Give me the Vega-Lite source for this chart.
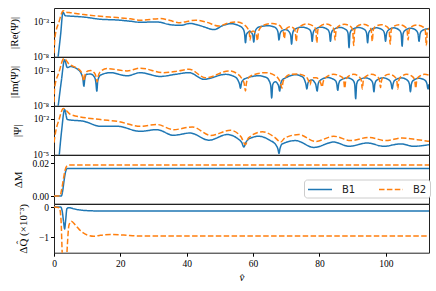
{
"$schema": "https://vega.github.io/schema/vega-lite/v6.json",
"padding": {"left": 7, "top": 7, "right": 8, "bottom": 5},
"spacing": 0,
"bounds": "flush",
"config": {
 "font": "Liberation Serif",
 "view": {"stroke": "#222", "strokeWidth": 1},
 "axis": {"labelFont": "Liberation Serif", "titleFont": "Liberation Serif", "labelFontSize": 9.5, "titleFontSize": 11, "titleFontWeight": "normal", "tickColor": "#000", "domain": false, "grid": false, "tickSize": 3.5, "labelColor": "#000", "titleColor": "#000", "labelPadding": 2},
 "line": {"strokeWidth": 1.5}
},
"resolve": {"legend": {"color": "independent", "strokeDash": "independent"}},
"data": {"values": [
{"p":1,"s":"B1","v":1.2,"y":6.3e-9},{"p":1,"s":"B1","v":2.0,"y":1.6e-5},{"p":1,"s":"B1","v":2.7,"y":2.5e-2},{"p":1,"s":"B1","v":3.4,"y":7.9e-3},{"p":1,"s":"B1","v":6,"y":6.3e-3},{"p":1,"s":"B1","v":9,"y":5.0e-3},{"p":1,"s":"B1","v":14,"y":2.4e-3},{"p":1,"s":"B1","v":19,"y":1.9e-3},{"p":1,"s":"B1","v":23,"y":1.26e-3},{"p":1,"s":"B1","v":26,"y":8.9e-4},{"p":1,"s":"B1","v":31,"y":1.0e-3},{"p":1,"s":"B1","v":35,"y":4.0e-4},{"p":1,"s":"B1","v":38,"y":3.2e-4},{"p":1,"s":"B1","v":41,"y":6.0e-4},{"p":1,"s":"B1","v":44.5,"y":2.5e-4},{"p":1,"s":"B1","v":48.2,"y":7.9e-5},{"p":1,"s":"B1","v":51,"y":3.2e-4},{"p":1,"s":"B1","v":53.2,"y":5.6e-4},{"p":1,"s":"B1","v":55.5,"y":3.2e-4},{"p":1,"s":"B1","v":56.9,"y":1.12e-4},{"p":1,"s":"B1","v":57.4,"y":2.5e-5},{"p":1,"s":"B1","v":57.7,"y":1e-6},{"p":1,"s":"B1","v":58.0,"y":1.6e-5},{"p":1,"s":"B1","v":58.5,"y":3.2e-5},{"p":1,"s":"B1","v":59.0,"y":5.0e-5},{"p":1,"s":"B1","v":59.4,"y":3.2e-5},{"p":1,"s":"B1","v":59.9,"y":1.26e-5},{"p":1,"s":"B1","v":60.2,"y":1.26e-6},{"p":1,"s":"B1","v":60.5,"y":2.5e-5},{"p":1,"s":"B1","v":61.0,"y":1e-4},{"p":1,"s":"B1","v":62.0,"y":2.0e-4},{"p":1,"s":"B1","v":64.5,"y":2.8e-4},{"p":1,"s":"B1","v":66.5,"y":1.78e-4},{"p":1,"s":"B1","v":67.0,"y":1.12e-4},{"p":1,"s":"B1","v":67.5,"y":3.2e-5},{"p":1,"s":"B1","v":67.8,"y":2.5e-6},{"p":1,"s":"B1","v":68.1,"y":2.0e-5},{"p":1,"s":"B1","v":68.6,"y":5.0e-5},{"p":1,"s":"B1","v":69.8,"y":7.9e-5},{"p":1,"s":"B1","v":70.8,"y":4.0e-5},{"p":1,"s":"B1","v":71.3,"y":1.26e-5},{"p":1,"s":"B1","v":71.6,"y":6.3e-7},{"p":1,"s":"B1","v":71.9,"y":2.0e-5},{"p":1,"s":"B1","v":72.4,"y":7.9e-5},{"p":1,"s":"B1","v":74.7,"y":1.78e-4},{"p":1,"s":"B1","v":77.0,"y":7.9e-5},{"p":1,"s":"B1","v":77.5,"y":2.5e-5},{"p":1,"s":"B1","v":77.8,"y":1.6e-6},{"p":1,"s":"B1","v":78.1,"y":2.5e-5},{"p":1,"s":"B1","v":78.6,"y":7.9e-5},{"p":1,"s":"B1","v":80.5,"y":1.78e-4},{"p":1,"s":"B1","v":82.5,"y":7.9e-5},{"p":1,"s":"B1","v":83.0,"y":2.5e-5},{"p":1,"s":"B1","v":83.3,"y":1.6e-6},{"p":1,"s":"B1","v":83.6,"y":2.5e-5},{"p":1,"s":"B1","v":84.1,"y":7.1e-5},{"p":1,"s":"B1","v":86.1,"y":1.6e-4},{"p":1,"s":"B1","v":88.1,"y":7.1e-5},{"p":1,"s":"B1","v":88.6,"y":2.24e-5},{"p":1,"s":"B1","v":88.9,"y":2.0e-7},{"p":1,"s":"B1","v":89.2,"y":2.24e-5},{"p":1,"s":"B1","v":89.7,"y":7.1e-5},{"p":1,"s":"B1","v":91.7,"y":1.6e-4},{"p":1,"s":"B1","v":93.7,"y":7.1e-5},{"p":1,"s":"B1","v":94.2,"y":2.24e-5},{"p":1,"s":"B1","v":94.5,"y":1e-6},{"p":1,"s":"B1","v":94.8,"y":2.24e-5},{"p":1,"s":"B1","v":95.3,"y":6.3e-5},{"p":1,"s":"B1","v":97.2,"y":1.41e-4},{"p":1,"s":"B1","v":99.1,"y":6.3e-5},{"p":1,"s":"B1","v":99.6,"y":2.0e-5},{"p":1,"s":"B1","v":99.9,"y":1.6e-6},{"p":1,"s":"B1","v":100.2,"y":2.0e-5},{"p":1,"s":"B1","v":100.7,"y":6.3e-5},{"p":1,"s":"B1","v":102.4,"y":1.41e-4},{"p":1,"s":"B1","v":104.1,"y":6.3e-5},{"p":1,"s":"B1","v":104.6,"y":2.0e-5},{"p":1,"s":"B1","v":104.9,"y":3.2e-7},{"p":1,"s":"B1","v":105.2,"y":2.0e-5},{"p":1,"s":"B1","v":105.7,"y":5.6e-5},{"p":1,"s":"B1","v":107.5,"y":1.26e-4},{"p":1,"s":"B1","v":109.2,"y":5.6e-5},{"p":1,"s":"B1","v":109.7,"y":1.78e-5},{"p":1,"s":"B1","v":110.0,"y":1.6e-6},{"p":1,"s":"B1","v":110.3,"y":1.78e-5},{"p":1,"s":"B1","v":110.8,"y":5.0e-5},{"p":1,"s":"B1","v":112.5,"y":1e-4},{"p":1,"s":"B1","v":113,"y":1e-4},
{"p":1,"s":"B2","v":0.0,"y":3.2e-8},{"p":1,"s":"B2","v":0.3,"y":6.3e-6},{"p":1,"s":"B2","v":1.5,"y":1e-3},{"p":1,"s":"B2","v":2.8,"y":4.0e-2},{"p":1,"s":"B2","v":3.6,"y":2.5e-2},{"p":1,"s":"B2","v":5,"y":2.1e-2},{"p":1,"s":"B2","v":9,"y":1.12e-2},{"p":1,"s":"B2","v":14,"y":6.3e-3},{"p":1,"s":"B2","v":19,"y":4.2e-3},{"p":1,"s":"B2","v":23,"y":2.8e-3},{"p":1,"s":"B2","v":26,"y":1.74e-3},{"p":1,"s":"B2","v":32,"y":3.0e-3},{"p":1,"s":"B2","v":35,"y":1.6e-3},{"p":1,"s":"B2","v":37.5,"y":7.9e-4},{"p":1,"s":"B2","v":42.7,"y":1.74e-3},{"p":1,"s":"B2","v":46,"y":8.9e-4},{"p":1,"s":"B2","v":49.7,"y":2.5e-4},{"p":1,"s":"B2","v":52.5,"y":7.1e-4},{"p":1,"s":"B2","v":55,"y":1e-3},{"p":1,"s":"B2","v":57.3,"y":4.0e-4},{"p":1,"s":"B2","v":58.3,"y":1.26e-4},{"p":1,"s":"B2","v":58.8,"y":4.0e-5},{"p":1,"s":"B2","v":59.1,"y":2.5e-6},{"p":1,"s":"B2","v":59.4,"y":3.2e-5},{"p":1,"s":"B2","v":60.0,"y":5.0e-5},{"p":1,"s":"B2","v":60.5,"y":3.2e-5},{"p":1,"s":"B2","v":61.0,"y":1.26e-5},{"p":1,"s":"B2","v":61.3,"y":2.0e-6},{"p":1,"s":"B2","v":61.6,"y":3.2e-5},{"p":1,"s":"B2","v":62.1,"y":1.26e-4},{"p":1,"s":"B2","v":63.3,"y":3.55e-4},{"p":1,"s":"B2","v":65.8,"y":6.0e-4},{"p":1,"s":"B2","v":68.1,"y":2.8e-4},{"p":1,"s":"B2","v":68.6,"y":1.26e-4},{"p":1,"s":"B2","v":69.1,"y":4.0e-5},{"p":1,"s":"B2","v":69.4,"y":4.0e-6},{"p":1,"s":"B2","v":69.7,"y":4.0e-5},{"p":1,"s":"B2","v":70.2,"y":1.26e-4},{"p":1,"s":"B2","v":71.2,"y":2.0e-4},{"p":1,"s":"B2","v":72.2,"y":1.26e-4},{"p":1,"s":"B2","v":72.7,"y":4.0e-5},{"p":1,"s":"B2","v":73.0,"y":1.6e-6},{"p":1,"s":"B2","v":73.3,"y":4.0e-5},{"p":1,"s":"B2","v":73.8,"y":1.6e-4},{"p":1,"s":"B2","v":76.1,"y":5.0e-4},{"p":1,"s":"B2","v":78.4,"y":2.0e-4},{"p":1,"s":"B2","v":78.9,"y":6.3e-5},{"p":1,"s":"B2","v":79.2,"y":1e-6},{"p":1,"s":"B2","v":79.5,"y":6.3e-5},{"p":1,"s":"B2","v":80.0,"y":2.0e-4},{"p":1,"s":"B2","v":82.0,"y":5.0e-4},{"p":1,"s":"B2","v":83.9,"y":2.0e-4},{"p":1,"s":"B2","v":84.4,"y":6.3e-5},{"p":1,"s":"B2","v":84.7,"y":2.5e-6},{"p":1,"s":"B2","v":85.0,"y":6.3e-5},{"p":1,"s":"B2","v":85.5,"y":2.0e-4},{"p":1,"s":"B2","v":87.5,"y":4.5e-4},{"p":1,"s":"B2","v":89.5,"y":2.0e-4},{"p":1,"s":"B2","v":90.0,"y":6.3e-5},{"p":1,"s":"B2","v":90.3,"y":4.0e-7},{"p":1,"s":"B2","v":90.6,"y":6.3e-5},{"p":1,"s":"B2","v":91.1,"y":2.0e-4},{"p":1,"s":"B2","v":93.1,"y":4.5e-4},{"p":1,"s":"B2","v":95.1,"y":2.0e-4},{"p":1,"s":"B2","v":95.6,"y":6.3e-5},{"p":1,"s":"B2","v":95.9,"y":1.6e-6},{"p":1,"s":"B2","v":96.2,"y":6.3e-5},{"p":1,"s":"B2","v":96.7,"y":2.0e-4},{"p":1,"s":"B2","v":98.6,"y":4.0e-4},{"p":1,"s":"B2","v":100.5,"y":1.78e-4},{"p":1,"s":"B2","v":101.0,"y":5.6e-5},{"p":1,"s":"B2","v":101.3,"y":6.3e-7},{"p":1,"s":"B2","v":101.6,"y":5.6e-5},{"p":1,"s":"B2","v":102.1,"y":1.78e-4},{"p":1,"s":"B2","v":104.0,"y":4.0e-4},{"p":1,"s":"B2","v":105.9,"y":1.78e-4},{"p":1,"s":"B2","v":106.4,"y":5.6e-5},{"p":1,"s":"B2","v":106.7,"y":2.5e-6},{"p":1,"s":"B2","v":107.0,"y":5.6e-5},{"p":1,"s":"B2","v":107.5,"y":1.78e-4},{"p":1,"s":"B2","v":109.5,"y":3.55e-4},{"p":1,"s":"B2","v":111.4,"y":1.6e-4},{"p":1,"s":"B2","v":111.9,"y":5.0e-5},{"p":1,"s":"B2","v":112.2,"y":4.0e-7},{"p":1,"s":"B2","v":112.5,"y":5.0e-5},{"p":1,"s":"B2","v":113,"y":1.26e-4},
{"p":2,"s":"B1","v":1.2,"y":5.0e-9},{"p":2,"s":"B1","v":2.2,"y":3.2e-5},{"p":2,"s":"B1","v":3.2,"y":4.0e-2},{"p":2,"s":"B1","v":4.0,"y":3.0e-3},{"p":2,"s":"B1","v":5.0,"y":4.2e-3},{"p":2,"s":"B1","v":7.2,"y":1.6e-3},{"p":2,"s":"B1","v":8.3,"y":3.2e-4},{"p":2,"s":"B1","v":8.7,"y":7.9e-5},{"p":2,"s":"B1","v":9.0,"y":6.3e-6},{"p":2,"s":"B1","v":9.3,"y":7.9e-5},{"p":2,"s":"B1","v":9.8,"y":3.2e-4},{"p":2,"s":"B1","v":11.0,"y":3.55e-4},{"p":2,"s":"B1","v":12.2,"y":1.26e-4},{"p":2,"s":"B1","v":12.6,"y":2.5e-5},{"p":2,"s":"B1","v":12.9,"y":1.26e-6},{"p":2,"s":"B1","v":13.2,"y":4.0e-5},{"p":2,"s":"B1","v":14.0,"y":2.5e-4},{"p":2,"s":"B1","v":17,"y":5.6e-4},{"p":2,"s":"B1","v":22,"y":2.0e-4},{"p":2,"s":"B1","v":26,"y":5.6e-4},{"p":2,"s":"B1","v":32,"y":1.6e-4},{"p":2,"s":"B1","v":36.7,"y":3.3e-4},{"p":2,"s":"B1","v":40.7,"y":5.6e-4},{"p":2,"s":"B1","v":45.2,"y":6.3e-5},{"p":2,"s":"B1","v":51.7,"y":3.2e-4},{"p":2,"s":"B1","v":54.5,"y":1.41e-4},{"p":2,"s":"B1","v":55.4,"y":5.0e-5},{"p":2,"s":"B1","v":55.9,"y":1.26e-5},{"p":2,"s":"B1","v":56.2,"y":3.2e-6},{"p":2,"s":"B1","v":56.5,"y":2.0e-5},{"p":2,"s":"B1","v":57.0,"y":5.0e-5},{"p":2,"s":"B1","v":58.2,"y":1e-4},{"p":2,"s":"B1","v":61.7,"y":2.0e-4},{"p":2,"s":"B1","v":64.0,"y":1.12e-4},{"p":2,"s":"B1","v":64.8,"y":4.0e-5},{"p":2,"s":"B1","v":65.3,"y":7.9e-6},{"p":2,"s":"B1","v":65.6,"y":1.26e-7},{"p":2,"s":"B1","v":65.9,"y":1e-5},{"p":2,"s":"B1","v":66.4,"y":2.5e-5},{"p":2,"s":"B1","v":66.8,"y":2.8e-5},{"p":2,"s":"B1","v":67.3,"y":1.6e-5},{"p":2,"s":"B1","v":67.7,"y":6.3e-6},{"p":2,"s":"B1","v":68.0,"y":1.26e-6},{"p":2,"s":"B1","v":68.3,"y":1.26e-5},{"p":2,"s":"B1","v":68.8,"y":5.0e-5},{"p":2,"s":"B1","v":69.8,"y":1e-4},{"p":2,"s":"B1","v":72.8,"y":2.8e-4},{"p":2,"s":"B1","v":75.0,"y":1.26e-4},{"p":2,"s":"B1","v":75.5,"y":5.0e-5},{"p":2,"s":"B1","v":75.9,"y":1.26e-5},{"p":2,"s":"B1","v":76.2,"y":2.5e-6},{"p":2,"s":"B1","v":76.5,"y":1.6e-5},{"p":2,"s":"B1","v":77.0,"y":4.0e-5},{"p":2,"s":"B1","v":77.8,"y":5.0e-5},{"p":2,"s":"B1","v":78.4,"y":2.8e-5},{"p":2,"s":"B1","v":78.9,"y":1e-5},{"p":2,"s":"B1","v":79.3,"y":1.26e-6},{"p":2,"s":"B1","v":79.6,"y":1.26e-5},{"p":2,"s":"B1","v":80.1,"y":4.0e-5},{"p":2,"s":"B1","v":82.4,"y":1.12e-4},{"p":2,"s":"B1","v":84.7,"y":4.5e-5},{"p":2,"s":"B1","v":85.2,"y":1.41e-5},{"p":2,"s":"B1","v":85.5,"y":1.6e-6},{"p":2,"s":"B1","v":85.8,"y":1.41e-5},{"p":2,"s":"B1","v":86.3,"y":4.5e-5},{"p":2,"s":"B1","v":88.5,"y":1e-4},{"p":2,"s":"B1","v":90.1,"y":4.5e-5},{"p":2,"s":"B1","v":90.6,"y":1.26e-5},{"p":2,"s":"B1","v":90.9,"y":1e-7},{"p":2,"s":"B1","v":91.2,"y":1.26e-5},{"p":2,"s":"B1","v":91.7,"y":4.5e-5},{"p":2,"s":"B1","v":93.9,"y":1e-4},{"p":2,"s":"B1","v":95.6,"y":4.5e-5},{"p":2,"s":"B1","v":96.1,"y":1.41e-5},{"p":2,"s":"B1","v":96.4,"y":1e-6},{"p":2,"s":"B1","v":96.7,"y":1.41e-5},{"p":2,"s":"B1","v":97.2,"y":4.5e-5},{"p":2,"s":"B1","v":99.2,"y":1e-4},{"p":2,"s":"B1","v":101.1,"y":4.5e-5},{"p":2,"s":"B1","v":101.6,"y":1.41e-5},{"p":2,"s":"B1","v":101.9,"y":2.5e-6},{"p":2,"s":"B1","v":102.2,"y":1.41e-5},{"p":2,"s":"B1","v":102.7,"y":4.5e-5},{"p":2,"s":"B1","v":104.7,"y":1e-4},{"p":2,"s":"B1","v":106.6,"y":4.0e-5},{"p":2,"s":"B1","v":107.1,"y":1.26e-5},{"p":2,"s":"B1","v":107.4,"y":1e-6},{"p":2,"s":"B1","v":107.7,"y":1.26e-5},{"p":2,"s":"B1","v":108.2,"y":4.0e-5},{"p":2,"s":"B1","v":110.0,"y":8.9e-5},{"p":2,"s":"B1","v":111.9,"y":4.0e-5},{"p":2,"s":"B1","v":112.4,"y":1.26e-5},{"p":2,"s":"B1","v":112.7,"y":2.5e-6},{"p":2,"s":"B1","v":113,"y":1.26e-5},
{"p":2,"s":"B2","v":0.0,"y":3.2e-8},{"p":2,"s":"B2","v":0.2,"y":4.0e-6},{"p":2,"s":"B2","v":1.5,"y":6.3e-4},{"p":2,"s":"B2","v":3.0,"y":6.3e-2},{"p":2,"s":"B2","v":4.5,"y":1e-2},{"p":2,"s":"B2","v":6.5,"y":3.2e-3},{"p":2,"s":"B2","v":8.0,"y":1e-3},{"p":2,"s":"B2","v":8.6,"y":2.5e-4},{"p":2,"s":"B2","v":9.0,"y":3.55e-5},{"p":2,"s":"B2","v":9.4,"y":3.2e-4},{"p":2,"s":"B2","v":10.2,"y":1e-3},{"p":2,"s":"B2","v":11.0,"y":1.12e-3},{"p":2,"s":"B2","v":12.2,"y":5.0e-4},{"p":2,"s":"B2","v":12.7,"y":1.26e-4},{"p":2,"s":"B2","v":13.0,"y":2.5e-5},{"p":2,"s":"B2","v":13.3,"y":1.6e-4},{"p":2,"s":"B2","v":14.0,"y":7.9e-4},{"p":2,"s":"B2","v":16,"y":2.14e-3},{"p":2,"s":"B2","v":22,"y":1e-3},{"p":2,"s":"B2","v":26,"y":2.5e-3},{"p":2,"s":"B2","v":33,"y":5.6e-4},{"p":2,"s":"B2","v":37.5,"y":1e-3},{"p":2,"s":"B2","v":40.7,"y":1.78e-3},{"p":2,"s":"B2","v":45.7,"y":1e-4},{"p":2,"s":"B2","v":52.7,"y":1e-3},{"p":2,"s":"B2","v":55.5,"y":3.2e-4},{"p":2,"s":"B2","v":56.7,"y":6.3e-5},{"p":2,"s":"B2","v":57.3,"y":1.6e-5},{"p":2,"s":"B2","v":57.7,"y":1.26e-6},{"p":2,"s":"B2","v":58.0,"y":2.0e-5},{"p":2,"s":"B2","v":58.6,"y":1e-4},{"p":2,"s":"B2","v":59.8,"y":2.5e-4},{"p":2,"s":"B2","v":63.8,"y":5.6e-4},{"p":2,"s":"B2","v":66.5,"y":2.24e-4},{"p":2,"s":"B2","v":67.6,"y":7.9e-5},{"p":2,"s":"B2","v":68.3,"y":1.6e-5},{"p":2,"s":"B2","v":68.7,"y":3.2e-6},{"p":2,"s":"B2","v":69.0,"y":2.5e-5},{"p":2,"s":"B2","v":69.6,"y":1e-4},{"p":2,"s":"B2","v":71.3,"y":3.2e-4},{"p":2,"s":"B2","v":73.5,"y":3.55e-4},{"p":2,"s":"B2","v":76.0,"y":1.41e-4},{"p":2,"s":"B2","v":76.6,"y":5.0e-5},{"p":2,"s":"B2","v":77.2,"y":1e-5},{"p":2,"s":"B2","v":77.5,"y":5.0e-5},{"p":2,"s":"B2","v":78.2,"y":1e-4},{"p":2,"s":"B2","v":79.0,"y":1e-4},{"p":2,"s":"B2","v":79.9,"y":5.0e-5},{"p":2,"s":"B2","v":80.4,"y":1.6e-5},{"p":2,"s":"B2","v":80.8,"y":5.0e-6},{"p":2,"s":"B2","v":81.1,"y":2.5e-5},{"p":2,"s":"B2","v":81.7,"y":1e-4},{"p":2,"s":"B2","v":84.2,"y":3.2e-4},{"p":2,"s":"B2","v":86.8,"y":1.26e-4},{"p":2,"s":"B2","v":87.3,"y":4.0e-5},{"p":2,"s":"B2","v":87.6,"y":3.2e-6},{"p":2,"s":"B2","v":87.9,"y":4.0e-5},{"p":2,"s":"B2","v":88.4,"y":1.26e-4},{"p":2,"s":"B2","v":90.3,"y":3.2e-4},{"p":2,"s":"B2","v":92.1,"y":1.26e-4},{"p":2,"s":"B2","v":92.6,"y":4.0e-5},{"p":2,"s":"B2","v":92.9,"y":2.5e-6},{"p":2,"s":"B2","v":93.2,"y":4.0e-5},{"p":2,"s":"B2","v":93.7,"y":1.26e-4},{"p":2,"s":"B2","v":95.6,"y":3.2e-4},{"p":2,"s":"B2","v":97.6,"y":1.26e-4},{"p":2,"s":"B2","v":98.1,"y":4.0e-5},{"p":2,"s":"B2","v":98.4,"y":4.0e-6},{"p":2,"s":"B2","v":98.7,"y":4.0e-5},{"p":2,"s":"B2","v":99.2,"y":1.26e-4},{"p":2,"s":"B2","v":101.0,"y":3.2e-4},{"p":2,"s":"B2","v":102.8,"y":1.26e-4},{"p":2,"s":"B2","v":103.3,"y":4.0e-5},{"p":2,"s":"B2","v":103.6,"y":2.5e-6},{"p":2,"s":"B2","v":103.9,"y":4.0e-5},{"p":2,"s":"B2","v":104.4,"y":1.26e-4},{"p":2,"s":"B2","v":106.3,"y":3.2e-4},{"p":2,"s":"B2","v":108.2,"y":1.26e-4},{"p":2,"s":"B2","v":108.7,"y":4.0e-5},{"p":2,"s":"B2","v":109.0,"y":3.2e-6},{"p":2,"s":"B2","v":109.3,"y":4.0e-5},{"p":2,"s":"B2","v":109.8,"y":1.26e-4},{"p":2,"s":"B2","v":111.7,"y":3.2e-4},{"p":2,"s":"B2","v":113,"y":2.5e-4},
{"p":3,"s":"B1","v":1.5,"y":5.0e-6},{"p":3,"s":"B1","v":2.3,"y":1e-3},{"p":3,"s":"B1","v":3.2,"y":5.6e-2},{"p":3,"s":"B1","v":4.0,"y":8.3e-3},{"p":3,"s":"B1","v":9,"y":5.9e-3},{"p":3,"s":"B1","v":14,"y":2.3e-3},{"p":3,"s":"B1","v":19,"y":2.3e-3},{"p":3,"s":"B1","v":26,"y":8.7e-4},{"p":3,"s":"B1","v":31,"y":1.2e-3},{"p":3,"s":"B1","v":36,"y":4.1e-4},{"p":3,"s":"B1","v":41,"y":6.3e-4},{"p":3,"s":"B1","v":46.7,"y":1.6e-4},{"p":3,"s":"B1","v":52.2,"y":4.7e-4},{"p":3,"s":"B1","v":55.5,"y":2.0e-4},{"p":3,"s":"B1","v":56.6,"y":1e-4},{"p":3,"s":"B1","v":57.2,"y":4.3e-5},{"p":3,"s":"B1","v":57.8,"y":1e-4},{"p":3,"s":"B1","v":59.0,"y":2.24e-4},{"p":3,"s":"B1","v":61.7,"y":3.4e-4},{"p":3,"s":"B1","v":65.0,"y":1.6e-4},{"p":3,"s":"B1","v":66.9,"y":6.3e-5},{"p":3,"s":"B1","v":67.5,"y":2.8e-5},{"p":3,"s":"B1","v":67.8,"y":1.26e-5},{"p":3,"s":"B1","v":68.1,"y":3.2e-5},{"p":3,"s":"B1","v":68.8,"y":7.9e-5},{"p":3,"s":"B1","v":72.8,"y":1.48e-4},{"p":3,"s":"B1","v":78.3,"y":4.0e-5},{"p":3,"s":"B1","v":84.3,"y":1.12e-4},{"p":3,"s":"B1","v":88.9,"y":5.0e-5},{"p":3,"s":"B1","v":94.4,"y":9.3e-5},{"p":3,"s":"B1","v":99.4,"y":5.0e-5},{"p":3,"s":"B1","v":104.4,"y":7.9e-5},{"p":3,"s":"B1","v":108.4,"y":5.0e-5},{"p":3,"s":"B1","v":113,"y":6.8e-5},
{"p":3,"s":"B2","v":0.0,"y":1e-4},{"p":3,"s":"B2","v":0.5,"y":7.9e-4},{"p":3,"s":"B2","v":1.5,"y":7.9e-3},{"p":3,"s":"B2","v":2.8,"y":6.8e-2},{"p":3,"s":"B2","v":5,"y":2.14e-2},{"p":3,"s":"B2","v":14,"y":8.3e-3},{"p":3,"s":"B2","v":19,"y":5.9e-3},{"p":3,"s":"B2","v":26,"y":2.3e-3},{"p":3,"s":"B2","v":31,"y":3.2e-3},{"p":3,"s":"B2","v":36,"y":1.2e-3},{"p":3,"s":"B2","v":41.7,"y":2.0e-3},{"p":3,"s":"B2","v":47.2,"y":4.0e-4},{"p":3,"s":"B2","v":53.2,"y":1.05e-3},{"p":3,"s":"B2","v":56.3,"y":3.2e-4},{"p":3,"s":"B2","v":57.7,"y":6.8e-5},{"p":3,"s":"B2","v":58.6,"y":2.5e-4},{"p":3,"s":"B2","v":62.8,"y":7.9e-4},{"p":3,"s":"B2","v":66.5,"y":2.8e-4},{"p":3,"s":"B2","v":68.3,"y":1.12e-4},{"p":3,"s":"B2","v":69.6,"y":2.5e-4},{"p":3,"s":"B2","v":73.8,"y":4.7e-4},{"p":3,"s":"B2","v":78.8,"y":1.26e-4},{"p":3,"s":"B2","v":84.3,"y":3.4e-4},{"p":3,"s":"B2","v":89.4,"y":1.48e-4},{"p":3,"s":"B2","v":94.9,"y":2.75e-4},{"p":3,"s":"B2","v":99.9,"y":1.48e-4},{"p":3,"s":"B2","v":104.9,"y":2.45e-4},{"p":3,"s":"B2","v":109.4,"y":1.78e-4},{"p":3,"s":"B2","v":113,"y":1.29e-4},
{"p":4,"s":"B1","v":0,"y":0},{"p":4,"s":"B1","v":2.2,"y":0},{"p":4,"s":"B1","v":2.6,"y":0.003},{"p":4,"s":"B1","v":3.0,"y":0.009},{"p":4,"s":"B1","v":3.5,"y":0.015},{"p":4,"s":"B1","v":4.0,"y":0.0169},{"p":4,"s":"B1","v":113,"y":0.0169},
{"p":4,"s":"B2","v":0,"y":0},{"p":4,"s":"B2","v":1.8,"y":0},{"p":4,"s":"B2","v":2.3,"y":0.004},{"p":4,"s":"B2","v":2.8,"y":0.010},{"p":4,"s":"B2","v":3.3,"y":0.0155},{"p":4,"s":"B2","v":3.9,"y":0.0185},{"p":4,"s":"B2","v":4.5,"y":0.019},{"p":4,"s":"B2","v":113,"y":0.019},
{"p":5,"s":"B1","v":0,"y":0},{"p":5,"s":"B1","v":2.0,"y":0},{"p":5,"s":"B1","v":2.5,"y":-0.15},{"p":5,"s":"B1","v":2.9,"y":-0.5},{"p":5,"s":"B1","v":3.2,"y":-0.72},{"p":5,"s":"B1","v":3.5,"y":-0.45},{"p":5,"s":"B1","v":3.9,"y":-0.05},{"p":5,"s":"B1","v":4.5,"y":-0.02},{"p":5,"s":"B1","v":6,"y":-0.06},{"p":5,"s":"B1","v":9,"y":-0.11},{"p":5,"s":"B1","v":14,"y":-0.13},{"p":5,"s":"B1","v":113,"y":-0.13},
{"p":5,"s":"B2","v":0,"y":0},{"p":5,"s":"B2","v":1.6,"y":-0.02},{"p":5,"s":"B2","v":2.1,"y":-0.4},{"p":5,"s":"B2","v":2.5,"y":-1.6},{"p":5,"s":"B2","v":3.0,"y":-2.6},{"p":5,"s":"B2","v":3.6,"y":-2.2},{"p":5,"s":"B2","v":4.0,"y":-1.3},{"p":5,"s":"B2","v":4.5,"y":-0.6},{"p":5,"s":"B2","v":5.2,"y":-0.47},{"p":5,"s":"B2","v":6.5,"y":-0.6},{"p":5,"s":"B2","v":8,"y":-0.78},{"p":5,"s":"B2","v":10,"y":-0.92},{"p":5,"s":"B2","v":12,"y":-0.96},{"p":5,"s":"B2","v":14,"y":-0.93},{"p":5,"s":"B2","v":17,"y":-0.9},{"p":5,"s":"B2","v":21,"y":-0.92},{"p":5,"s":"B2","v":26,"y":-0.95},{"p":5,"s":"B2","v":113,"y":-0.955}
]},
"vconcat": [
{"width": 375, "height": 48.7, "transform": [{"filter": "datum.p == 1"}],
 "mark": {"type": "line", "clip": true, "interpolate": "monotone", "strokeWidth": 1.5},
 "encoding": {
  "x": {"field": "v", "type": "quantitative", "scale": {"domain": [0, 113], "nice": false, "zero": false}, "axis": null},
  "y": {"field": "y", "type": "quantitative", "scale": {"type": "log", "domain": [1e-8, 0.1], "nice": false}, "axis": {"title": "|Re(Ψ)|", "values": [1e-8, 1e-3], "labelExpr": "datum.value < 1e-5 ? '10⁻⁸' : '10⁻³'", "titleX": -40, "titleY": 24.35, "titleBaseline": "middle", "titleAlign": "center"}},
  "color": {"field": "s", "type": "nominal", "scale": {"domain": ["B1", "B2"], "range": ["#1f77b4", "#ff7f0e"]}, "legend": null},
  "strokeDash": {"field": "s", "type": "nominal", "scale": {"domain": ["B1", "B2"], "range": [[1, 0], [5.5, 2.4]]}, "legend": null}
 }},
{"width": 375, "height": 48.7, "transform": [{"filter": "datum.p == 2"}],
 "mark": {"type": "line", "clip": true, "interpolate": "monotone", "strokeWidth": 1.5},
 "encoding": {
  "x": {"field": "v", "type": "quantitative", "scale": {"domain": [0, 113], "nice": false, "zero": false}, "axis": null},
  "y": {"field": "y", "type": "quantitative", "scale": {"type": "log", "domain": [1e-8, 0.1], "nice": false}, "axis": {"title": "|Im(Ψ)|", "values": [1e-8, 1e-3], "labelExpr": "datum.value < 1e-5 ? '10⁻⁸' : '10⁻³'", "titleX": -40, "titleY": 24.35, "titleBaseline": "middle", "titleAlign": "center"}},
  "color": {"field": "s", "type": "nominal", "scale": {"domain": ["B1", "B2"], "range": ["#1f77b4", "#ff7f0e"]}, "legend": null},
  "strokeDash": {"field": "s", "type": "nominal", "scale": {"domain": ["B1", "B2"], "range": [[1, 0], [5.5, 2.4]]}, "legend": null}
 }},
{"width": 375, "height": 48.7, "transform": [{"filter": "datum.p == 3"}],
 "mark": {"type": "line", "clip": true, "interpolate": "monotone", "strokeWidth": 1.5},
 "encoding": {
  "x": {"field": "v", "type": "quantitative", "scale": {"domain": [0, 113], "nice": false, "zero": false}, "axis": null},
  "y": {"field": "y", "type": "quantitative", "scale": {"type": "log", "domain": [1e-5, 0.11], "nice": false}, "axis": {"title": "|Ψ|", "values": [1e-5, 1e-2], "labelExpr": "datum.value < 1e-4 ? '10⁻⁵' : '10⁻²'", "titleX": -37, "titleY": 24.35, "titleBaseline": "middle", "titleAlign": "center"}},
  "color": {"field": "s", "type": "nominal", "scale": {"domain": ["B1", "B2"], "range": ["#1f77b4", "#ff7f0e"]}, "legend": null},
  "strokeDash": {"field": "s", "type": "nominal", "scale": {"domain": ["B1", "B2"], "range": [[1, 0], [5.5, 2.4]]}, "legend": null}
 }},
{"width": 375, "height": 48.7, "transform": [{"filter": "datum.p == 4"}],
 "mark": {"type": "line", "clip": true, "interpolate": "monotone", "strokeWidth": 1.5},
 "encoding": {
  "x": {"field": "v", "type": "quantitative", "scale": {"domain": [0, 113], "nice": false, "zero": false}, "axis": null},
  "y": {"field": "y", "type": "quantitative", "scale": {"domain": [-0.0047, 0.0252], "nice": false, "zero": false}, "axis": {"title": "ΔM", "values": [0, 0.02], "format": ".2f", "titleX": -36, "titleY": 24.35, "titleBaseline": "middle", "titleAlign": "center"}},
  "color": {"field": "s", "type": "nominal", "scale": {"domain": ["B1", "B2"], "range": ["#1f77b4", "#ff7f0e"]}, "legend": {"title": null, "orient": "none", "legendX": 250, "legendY": 24.5, "direction": "horizontal", "symbolType": "M-2,0L2,0", "symbolSize": 144, "symbolStrokeWidth": 1.5, "labelFont": "DejaVu Sans", "labelFontSize": 10, "labelColor": "#222", "fillColor": "white", "strokeColor": "#cccccc", "padding": 3, "cornerRadius": 3, "columnPadding": 20, "labelOffset": 15, "symbolOffset": 6}},
  "strokeDash": {"field": "s", "type": "nominal", "scale": {"domain": ["B1", "B2"], "range": [[1, 0], [5.5, 2.4]]}, "legend": {"title": null, "orient": "none", "legendX": 250, "legendY": 24.5, "direction": "horizontal", "symbolType": "M-2,0L2,0", "symbolSize": 144, "symbolStrokeWidth": 1.5, "labelFont": "DejaVu Sans", "labelFontSize": 10, "labelColor": "#222", "fillColor": "white", "strokeColor": "#cccccc", "padding": 3, "cornerRadius": 3, "columnPadding": 20, "labelOffset": 15, "symbolOffset": 6}}
 }},
{"width": 375, "height": 48.7, "transform": [{"filter": "datum.p == 5"}],
 "mark": {"type": "line", "clip": true, "interpolate": "monotone", "strokeWidth": 1.5},
 "encoding": {
  "x": {"field": "v", "type": "quantitative", "scale": {"domain": [0, 113], "nice": false, "zero": false}, "axis": {"title": "v̂", "titleFontStyle": "italic", "values": [0, 20, 40, 60, 80, 100], "labelFlush": false, "titlePadding": 4}},
  "y": {"field": "y", "type": "quantitative", "scale": {"domain": [-1.5, 0.1], "nice": false, "zero": false}, "axis": {"title": "ΔQ̂ (×10⁻³)", "values": [-1, 0], "labelExpr": "datum.value == 0 ? '0' : '−1'", "titleX": -31, "titleY": 24.35, "titleBaseline": "middle", "titleAlign": "center"}},
  "color": {"field": "s", "type": "nominal", "scale": {"domain": ["B1", "B2"], "range": ["#1f77b4", "#ff7f0e"]}, "legend": null},
  "strokeDash": {"field": "s", "type": "nominal", "scale": {"domain": ["B1", "B2"], "range": [[1, 0], [5.5, 2.4]]}, "legend": null}
 }}
]
}
